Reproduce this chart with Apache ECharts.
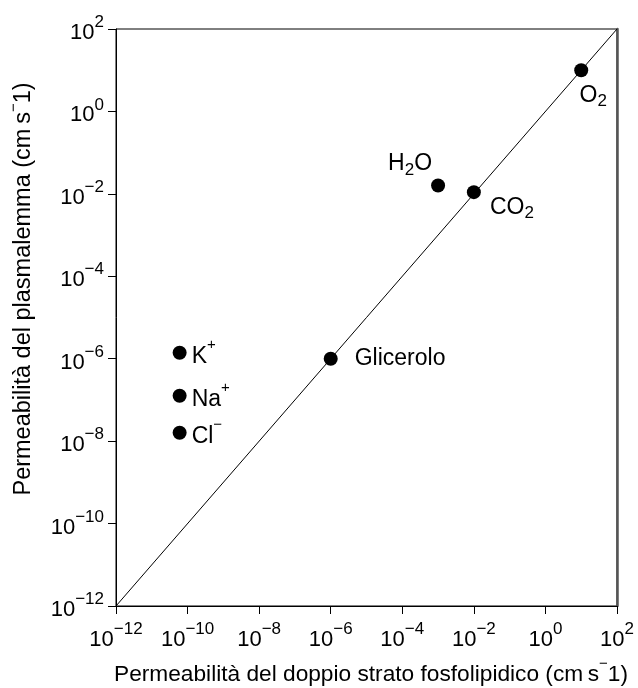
<!DOCTYPE html>
<html>
<head>
<meta charset="utf-8">
<script src="https://cdn.jsdelivr.net/npm/echarts@6/dist/echarts.min.js"></script>
<style>
  html, body { margin: 0; padding: 0; background: #fff; }
  #chart { width: 638px; height: 688px; }
</style>
</head>
<body>
<div id="chart"></div>
<script>
// ---- data ----
var species = ['K+', 'Na+', 'Cl-', 'Glicerolo', 'H2O', 'CO2', 'O2'];
var bilayerPerm = [6e-11, 6e-11, 6e-11, 1e-6, 1e-3, 1e-2, 10];
var membranePerm = [1.4e-6, 1.26e-7, 1.6e-8, 1e-6, 1.6e-2, 1.1e-2, 10];
var identityLine = [[1e-12, 1e-12], [1e2, 1e2]];
var axisMin = 1e-12;
var axisMax = 1e2;
var xTitle = '{t|Permeabilità del doppio strato fosfolipidico (cm\u2009s}{sup|\u2212}{t|1)}';
var yTitle = '{t|Permeabilità del plasmalemma (cm\u2009s}{sup|\u2212}{t|1)}';
// rich-text label strings per species
var labelText = {
  'K+': '{na|K}{sp|+}',
  'Na+': '{na|Na}{sp|+}',
  'Cl-': '{na|Cl}{sp|\u2212}',
  'Glicerolo': '{g|Glicerolo}',
  'H2O': '{nb|H}{sb|2}{nb|O}',
  'CO2': '{nb|CO}{sb|2}',
  'O2': '{nb|O}{sb|2}'
};

// ---- layout/style (not data) ----
var FONT = "'Liberation Sans', Arial, Helvetica, sans-serif";
var labelPlace = {
  'K+': { position: 'right', distance: 5 },
  'Na+': { position: 'right', distance: 5 },
  'Cl-': { position: 'right', distance: 5 },
  'Glicerolo': { position: 'right', distance: 17 },
  'H2O': { position: 'inside', offset: [-28, -20] },
  'CO2': { position: 'inside', offset: [38, 17] },
  'O2': { position: 'inside', offset: [12, 27] }
};

var pointRich = {
  na: { fontSize: 23, lineHeight: 30, verticalAlign: 'bottom', color: '#000', fontFamily: FONT },
  sp: { fontSize: 15, lineHeight: 15, verticalAlign: 'top', color: '#000', fontFamily: FONT },
  nb: { fontSize: 23, lineHeight: 26, verticalAlign: 'top', color: '#000', fontFamily: FONT },
  sb: { fontSize: 17, lineHeight: 17, verticalAlign: 'bottom', color: '#000', fontFamily: FONT },
  g: { fontSize: 23, lineHeight: 26, color: '#000', fontFamily: FONT }
};

var tickRich = {
  b: { fontSize: 22, lineHeight: 30, verticalAlign: 'bottom', color: '#000', fontFamily: FONT },
  s: { fontSize: 17, lineHeight: 17, verticalAlign: 'top', color: '#000', fontFamily: FONT }
};
function titleRich(size) {
  return {
    t: { fontSize: size, lineHeight: 30, verticalAlign: 'bottom', color: '#000', fontFamily: FONT },
    sup: { fontSize: 15, lineHeight: 15, verticalAlign: 'top', color: '#000', fontFamily: FONT }
  };
}

function tickFmt(v) {
  var e = Math.round(Math.log10(v));
  var s = e < 0 ? '\u2212' + (-e) : String(e);
  return '{b|10}{s|' + s + '}';
}

var points = species.map(function (name, i) {
  var p = labelPlace[name];
  var lab = {
    show: true,
    formatter: labelText[name],
    position: p.position,
    color: '#000',
    rich: pointRich
  };
  if (p.distance !== undefined) lab.distance = p.distance;
  if (p.offset) { lab.offset = p.offset; lab.align = 'center'; lab.verticalAlign = 'middle'; }
  return { name: name, value: [bilayerPerm[i], membranePerm[i]], label: lab };
});

var chart = echarts.init(document.getElementById('chart'), null, { renderer: 'canvas' });
chart.setOption({
  animation: false,
  backgroundColor: '#fff',
  textStyle: { color: '#000', fontFamily: FONT },
  grid: { left: 116, top: 29, right: 21, bottom: 82, containLabel: false, outerBoundsMode: 'none',
          show: true, borderColor: '#000', borderWidth: 1, backgroundColor: 'transparent' },
  xAxis: {
    type: 'log', logBase: 10, min: axisMin, max: axisMax, interval: 2,
    name: xTitle, nameLocation: 'middle', nameGap: 49,
    nameTextStyle: { color: '#000', rich: titleRich(22.7), padding: [0, 0, 0, 9] },
    axisLine: { show: true, lineStyle: { color: '#000', width: 1 } },
    axisTick: { show: true, inside: false, length: 8, lineStyle: { color: '#000', width: 1 } },
    minorTick: { show: false },
    splitLine: { show: false },
    axisLabel: { color: '#000', formatter: tickFmt, rich: tickRich, margin: 15 }
  },
  yAxis: [{
    type: 'log', logBase: 10, min: axisMin, max: axisMax, interval: 2,
    name: yTitle, nameLocation: 'middle', nameGap: 80,
    nameTextStyle: { color: '#000', rich: titleRich(23.5), padding: [0, 0, 0, 57] },
    axisLine: { show: true, lineStyle: { color: '#000', width: 1 } },
    axisTick: { show: true, inside: false, length: 8, lineStyle: { color: '#000', width: 1 } },
    minorTick: { show: false },
    splitLine: { show: false },
    axisLabel: { color: '#000', formatter: tickFmt, rich: tickRich, margin: 12 }
  }, {
    type: 'log', logBase: 10, min: axisMin, max: axisMax, position: 'right',
    axisLine: { show: true, lineStyle: { color: '#555', width: 2.5 } },
    axisTick: { show: false }, axisLabel: { show: false }, splitLine: { show: false }
  }],
  series: [{
    type: 'line',
    data: identityLine,
    showSymbol: false,
    symbol: 'none',
    silent: true,
    lineStyle: { color: '#000', width: 1 },
    z: 1
  }, {
    type: 'scatter',
    data: points,
    symbol: 'circle',
    symbolSize: 14,
    itemStyle: { color: '#000', opacity: 1 },
    silent: true,
    z: 3
  }]
});
</script>
</body>
</html>
